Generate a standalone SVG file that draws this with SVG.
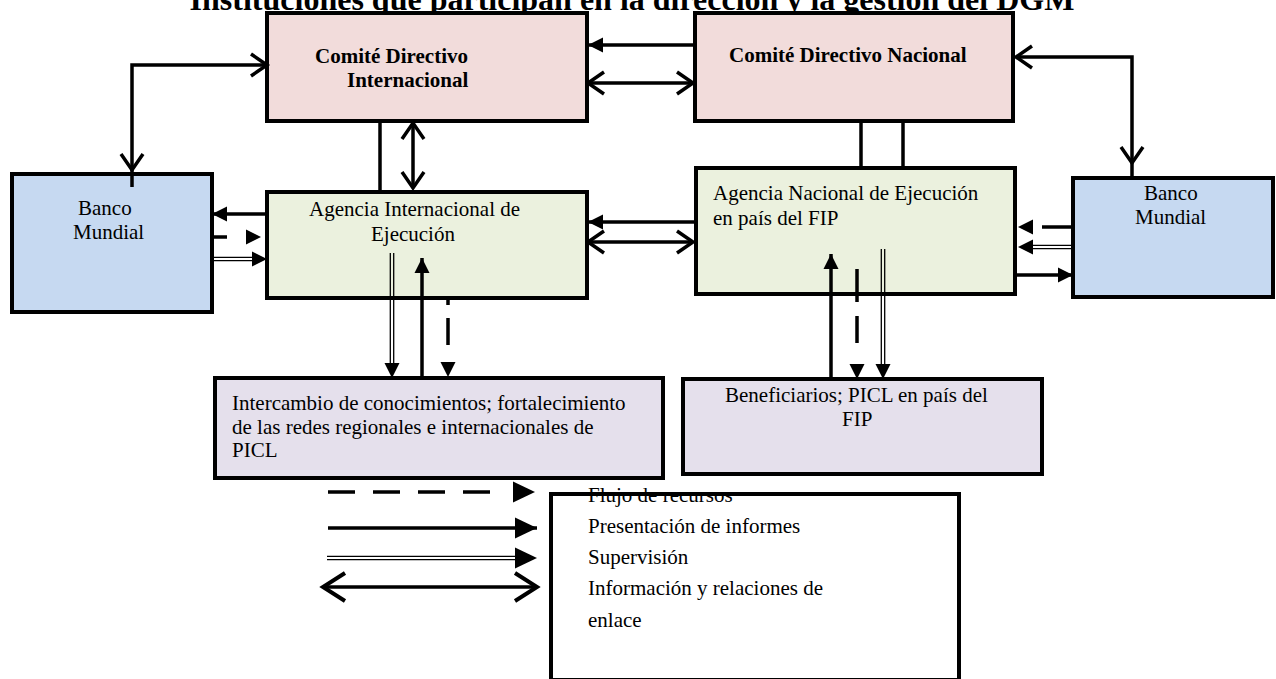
<svg xmlns="http://www.w3.org/2000/svg" width="1276" height="679" viewBox="0 0 1276 679">
  <style>
    text { font-family: "Liberation Serif", "Times New Roman", serif; font-size: 21px; fill: #000; }
    .b { font-weight: bold; }
    .title { font-size: 32px; font-weight: bold; }
    .box { stroke: #000; stroke-width: 4; }
    .pink { fill: #f2dcdb; }
    .green { fill: #ebf1de; }
    .blue { fill: #c6d9f1; }
    .lav { fill: #e5e0ec; }
    .ln { fill: none; stroke: #000; stroke-width: 3.5; }
    .dl { fill: none; stroke: #000; stroke-width: 1.3; }
    .mk { fill: none; stroke: none; }
  </style>
  <defs>
    <marker id="fill" markerUnits="userSpaceOnUse" markerWidth="15" markerHeight="15" refX="15" refY="7.5" orient="auto" overflow="visible">
      <path d="M0,0 L15,7.5 L0,15 z" fill="#000"/>
    </marker>
    <marker id="fillL" markerUnits="userSpaceOnUse" markerWidth="22" markerHeight="21" refX="22" refY="10.5" orient="auto" overflow="visible">
      <path d="M0,0 L22,10.5 L0,21 z" fill="#000"/>
    </marker>
    <marker id="chev" markerUnits="userSpaceOnUse" markerWidth="20" markerHeight="24" refX="17" refY="11" orient="auto-start-reverse" overflow="visible">
      <path d="M1,0 L17,11 L1,22" fill="none" stroke="#000" stroke-width="3.5"/>
    </marker>
    <marker id="chevOff" markerUnits="userSpaceOnUse" markerWidth="36" markerHeight="24" refX="34" refY="11" orient="auto" overflow="visible">
      <path d="M1,0 L17,11 L1,22" fill="none" stroke="#000" stroke-width="3.5"/>
    </marker>
    <marker id="chevL" markerUnits="userSpaceOnUse" markerWidth="26" markerHeight="30" refX="23" refY="14" orient="auto-start-reverse" overflow="visible">
      <path d="M1,0 L23,14 L1,28" fill="none" stroke="#000" stroke-width="4"/>
    </marker>
  </defs>

  <rect width="1276" height="679" fill="#fff"/>

  <text class="title" x="632" y="10" text-anchor="middle">Instituciones que participan en la dirección y la gestión del DGM</text>

  <g id="cdi">
    <rect class="box pink" x="267" y="13" width="320" height="108"/>
    <text class="b" x="315" y="63">Comité Directivo</text>
    <text class="b" x="347" y="87">Internacional</text>
  </g>
  <g id="cdn">
    <rect class="box pink" x="695" y="13" width="318" height="108"/>
    <text class="b" x="729" y="62">Comité Directivo Nacional</text>
  </g>
  <g id="banco-left">
    <rect class="box blue" x="12" y="174" width="200" height="138"/>
    <text x="78" y="215">Banco</text>
    <text x="73" y="239">Mundial</text>
  </g>
  <g id="aie">
    <rect class="box green" x="267" y="192" width="320" height="106"/>
    <text x="309" y="216">Agencia Internacional de</text>
    <text x="371" y="241">Ejecución</text>
  </g>
  <g id="ane">
    <rect class="box green" x="696" y="168" width="319" height="126"/>
    <text x="713" y="200">Agencia Nacional de Ejecución</text>
    <text x="713" y="225">en país del FIP</text>
  </g>
  <g id="banco-right">
    <rect class="box blue" x="1073" y="178" width="200" height="119"/>
    <text x="1144" y="200">Banco</text>
    <text x="1135" y="224">Mundial</text>
  </g>
  <g id="intercambio">
    <rect class="box lav" x="215" y="378" width="448" height="100"/>
    <text x="232" y="410">Intercambio de conocimientos; fortalecimiento</text>
    <text x="232" y="434">de las redes regionales e internacionales de</text>
    <text x="232" y="457">PICL</text>
  </g>
  <g id="beneficiarios">
    <rect class="box lav" x="683" y="379" width="359" height="95"/>
    <text x="725" y="402">Beneficiarios; PICL en país del</text>
    <text x="842" y="426">FIP</text>
  </g>

  <g id="connectors">
    <path class="ln" d="M267,65 H132 V187" marker-start="url(#chev)" marker-end="url(#chevOff)"/>
    <path class="ln" d="M380,121 V192"/>
    <path class="ln" d="M413,123 V188" marker-start="url(#chev)" marker-end="url(#chev)"/>
    <path class="ln" d="M695,45 H588" marker-end="url(#fill)"/>
    <path class="ln" d="M588,83 H693" marker-start="url(#chev)" marker-end="url(#chev)"/>
    <path class="ln" d="M861,121 V168"/>
    <path class="ln" d="M903,121 V168"/>
    <path class="ln" d="M1016,57 H1132 V180" marker-start="url(#chev)" marker-end="url(#chevOff)"/>
    <path class="ln" d="M267,214 H212" marker-end="url(#fill)"/>
    <path class="ln" d="M214,237 H261" stroke-dasharray="13 100" marker-end="url(#fill)"/>
    <g>
      <path class="dl" d="M212,257.3 H253 M212,260.7 H253"/>
      <path class="mk" d="M212,259 H267" marker-end="url(#fill)"/>
    </g>
    <path class="ln" d="M695,222 H588" marker-end="url(#fill)"/>
    <path class="ln" d="M588,242 H693" marker-start="url(#chev)" marker-end="url(#chev)"/>
    <g>
      <path class="dl" d="M390.3,253 V364 M393.7,253 V364"/>
      <path class="mk" d="M392,253 V378" marker-end="url(#fill)"/>
    </g>
    <path class="ln" d="M422,378 V258" marker-end="url(#fill)"/>
    <path class="ln" d="M448,299 V377" stroke-dasharray="6 13 27 100" marker-end="url(#fill)"/>
    <path class="ln" d="M831,379 V254" marker-end="url(#fill)"/>
    <path class="ln" d="M857,269 V379" stroke-dasharray="33 14 27 100" marker-end="url(#fill)"/>
    <g>
      <path class="dl" d="M881.3,249 V365 M884.7,249 V365"/>
      <path class="mk" d="M883,249 V379" marker-end="url(#fill)"/>
    </g>
    <path class="ln" d="M1073,227 H1018" stroke-dasharray="31 100" marker-end="url(#fill)"/>
    <g>
      <path class="dl" d="M1073,245.3 H1032 M1073,248.7 H1032"/>
      <path class="mk" d="M1073,247 H1018" marker-end="url(#fill)"/>
    </g>
    <path class="ln" d="M1015,275 H1073" marker-end="url(#fill)"/>
  </g>

  <g id="legend">
    <path class="ln" d="M328,492 H535" stroke-width="4" stroke-dasharray="27 18 27 18 27 18 27 100" marker-end="url(#fillL)"/>
    <path class="ln" d="M328,528 H537" stroke-width="4" marker-end="url(#fillL)"/>
    <g>
      <path class="dl" d="M327,556.3 H516 M327,559.7 H516"/>
      <path class="mk" d="M327,558 H537" marker-end="url(#fillL)"/>
    </g>
    <path class="ln" d="M323,587 H537" stroke-width="4" marker-start="url(#chevL)" marker-end="url(#chevL)"/>
    <text x="588" y="502">Flujo de recursos</text>
    <text x="588" y="533">Presentación de informes</text>
    <text x="588" y="564">Supervisión</text>
    <text x="588" y="595">Información y relaciones de</text>
    <text x="588" y="627">enlace</text>
    <rect class="box" fill="none" x="551" y="494" width="408" height="186"/>
  </g>
</svg>
